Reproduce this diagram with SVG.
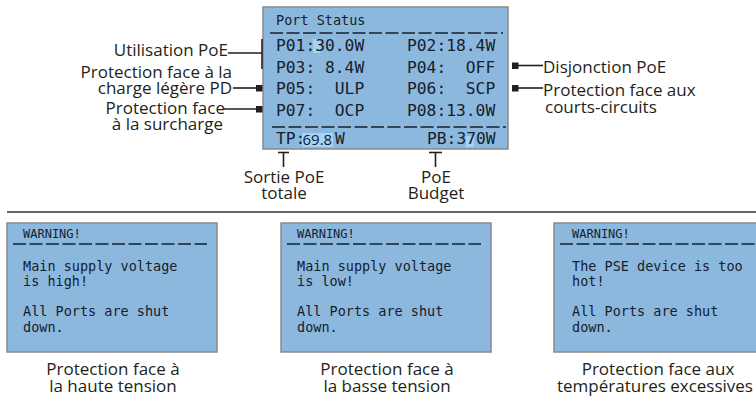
<svg xmlns="http://www.w3.org/2000/svg" width="756" height="396" viewBox="0 0 756 396">
<style>
.panel{fill:#8cb8de;stroke:#8a8a8a;stroke-width:1.5}
.hl{fill:#a3d3f7}
.mono{font-family:"DejaVu Sans Mono","Liberation Mono",monospace;fill:#16202c;white-space:pre}
.row{font-size:16.3px}
.title{font-size:13.5px}
.warn{font-size:12px}
.body{font-size:13.5px}
.lbl{font-family:"Open Sans","Liberation Sans",sans-serif;font-size:17px;fill:#231f20}
.dash{stroke:#16202c;stroke-width:1.3;stroke-dasharray:13 3.5;fill:none}
.con{stroke:#231f20;stroke-width:1.6;fill:none}
.sq{fill:#231f20}
</style>
<rect width="756" height="396" fill="#ffffff"/>

<g id="port-status">
  <rect class="panel" x="263" y="7" width="245" height="142"/>
  <rect class="hl" x="313" y="39" width="7.5" height="14"/>
  <rect class="hl" x="302" y="133" width="31" height="14"/>
  <rect class="hl" x="466" y="136" width="8" height="11"/>
  <text class="mono title" x="276" y="25">Port Status</text>
  <line class="dash" x1="270" y1="33" x2="503" y2="33"/>
  <text class="mono row" x="276" y="51">P01:30.0W</text>
  <text class="mono row" x="407" y="51">P02:18.4W</text>
  <text class="mono row" x="276" y="72.5">P03: 8.4W</text>
  <text class="mono row" x="407" y="72.5">P04:  OFF</text>
  <text class="mono row" x="276" y="94">P05:  ULP</text>
  <text class="mono row" x="407" y="94">P06:  SCP</text>
  <text class="mono row" x="276" y="115.5">P07:  OCP</text>
  <text class="mono row" x="407" y="115.5">P08:13.0W</text>
  <line class="dash" x1="272" y1="127" x2="506" y2="127"/>
  <text class="mono row" x="276" y="144">TP:</text>
  <text x="302.5" y="145" font-family="Open Sans, Liberation Sans, sans-serif" font-size="15px" fill="#16202c">69.8</text>
  <text class="mono row" x="335" y="144">W</text>
  <text class="mono row" x="427" y="144">PB:370W</text>
</g>

<g id="connectors">
  <line class="con" x1="228" y1="53" x2="262" y2="53"/>
  <line class="con" x1="262" y1="39" x2="262" y2="69"/>
  <line class="con" x1="233" y1="88" x2="258" y2="88"/>
  <rect class="sq" x="256" y="85" width="6.5" height="6.5"/>
  <line class="con" x1="224" y1="109" x2="258" y2="109"/>
  <rect class="sq" x="256" y="106" width="6.5" height="6.5"/>
  <rect class="sq" x="512" y="62.5" width="6.5" height="6.5"/>
  <line class="con" x1="518" y1="65.5" x2="543" y2="65.5"/>
  <rect class="sq" x="512" y="85" width="6.5" height="6.5"/>
  <line class="con" x1="518" y1="88" x2="543" y2="88"/>
  <line class="con" x1="283.5" y1="152" x2="283.5" y2="167"/>
  <line class="con" x1="278" y1="152.5" x2="289" y2="152.5" stroke-width="2.5"/>
  <line class="con" x1="435.5" y1="152" x2="435.5" y2="167"/>
  <line class="con" x1="429" y1="152.5" x2="442" y2="152.5" stroke-width="2.5"/>
</g>

<g id="label-utilisation"><text class="lbl" x="228" y="56" text-anchor="end">Utilisation PoE</text></g>
<g id="label-ulp"><text class="lbl" x="232" y="78" text-anchor="end">Protection face à la</text><text class="lbl" x="232" y="94" text-anchor="end">charge légère PD</text></g>
<g id="label-ocp"><text class="lbl" x="225" y="114" text-anchor="end">Protection face</text><text class="lbl" x="223" y="130" text-anchor="end">à la surcharge</text></g>
<g id="label-disjonction"><text class="lbl" x="543" y="73">Disjonction PoE</text></g>
<g id="label-scp"><text class="lbl" x="543" y="96">Protection face aux</text><text class="lbl" x="545" y="113">courts-circuits</text></g>
<g id="label-sortie"><text class="lbl" x="284" y="183" text-anchor="middle">Sortie PoE</text><text class="lbl" x="284" y="199" text-anchor="middle">totale</text></g>
<g id="label-budget"><text class="lbl" x="436" y="183" text-anchor="middle">PoE</text><text class="lbl" x="436" y="199" text-anchor="middle">Budget</text></g>

<line x1="7" y1="212" x2="756" y2="212" stroke="#333333" stroke-width="1.3"/>

<g id="warn-high">
  <rect class="panel" x="7" y="223" width="210" height="129"/>
  <text class="mono warn" x="23" y="238">WARNING!</text>
  <line class="dash" x1="13" y1="244" x2="207" y2="244" stroke-dasharray="11 3"/>
  <text class="mono body" x="23" y="271">Main supply voltage</text>
  <text class="mono body" x="23" y="286">is high!</text>
  <text class="mono body" x="23" y="316">All Ports are shut</text>
  <text class="mono body" x="23" y="332">down.</text>
  <text class="lbl" x="113" y="375" text-anchor="middle">Protection face à</text>
  <text class="lbl" x="113" y="391.5" text-anchor="middle">la haute tension</text>
</g>

<g id="warn-low">
  <rect class="panel" x="281" y="223" width="210" height="129"/>
  <text class="mono warn" x="297" y="238">WARNING!</text>
  <line class="dash" x1="287" y1="244" x2="481" y2="244" stroke-dasharray="11 3"/>
  <text class="mono body" x="297" y="271">Main supply voltage</text>
  <text class="mono body" x="297" y="286">is low!</text>
  <text class="mono body" x="297" y="316">All Ports are shut</text>
  <text class="mono body" x="297" y="332">down.</text>
  <text class="lbl" x="387" y="375" text-anchor="middle">Protection face à</text>
  <text class="lbl" x="387" y="391.5" text-anchor="middle">la basse tension</text>
</g>

<g id="warn-hot">
  <rect class="panel" x="554" y="223" width="210" height="129"/>
  <text class="mono warn" x="572" y="238">WARNING!</text>
  <line class="dash" x1="560" y1="244" x2="756" y2="244" stroke-dasharray="11 3"/>
  <text class="mono body" x="572" y="271">The PSE device is too</text>
  <text class="mono body" x="572" y="286">hot!</text>
  <text class="mono body" x="572" y="316">All Ports are shut</text>
  <text class="mono body" x="572" y="332">down.</text>
  <text class="lbl" x="658" y="375" text-anchor="middle">Protection face aux</text>
  <text class="lbl" x="655" y="391.5" text-anchor="middle">températures excessives</text>
</g>
</svg>
